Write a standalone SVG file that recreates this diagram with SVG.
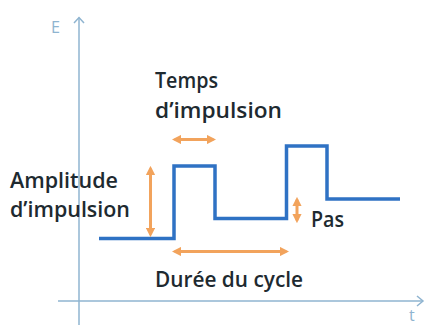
<svg xmlns="http://www.w3.org/2000/svg" width="425" height="325" viewBox="0 0 425 325">
  <style>
    .axis { fill: none; stroke: #8fb4d0; stroke-width: 1.5; }
    .signal { fill: none; stroke: #2f72c4; stroke-width: 3.5; stroke-linejoin: miter; }
    .dim { fill: none; stroke: #f2a35c; stroke-width: 3; marker-start: url(#oh); marker-end: url(#oh); }
    .lbl { font-family: "Open Sans", "Liberation Sans", sans-serif; font-size: 22px; font-weight: 600; fill: #1e2a30; }
    .axlbl { font-family: "Open Sans", "Liberation Sans", sans-serif; font-size: 16px; fill: #8fb4d0; }
  </style>
  <defs>
    <marker id="oh" viewBox="0 0 10 10" refX="7" refY="5" markerWidth="3.2" markerHeight="3.2" orient="auto-start-reverse" markerUnits="strokeWidth">
      <path d="M0,0 L10,5 L0,10 Z" fill="#f2a35c"/>
    </marker>
  </defs>
  <rect width="425" height="325" fill="#ffffff"/>

  <g id="axes">
    <path class="axis" d="M79,325 V17.5"/>
    <path class="axis" d="M74,23 L79,17.5 L84,23"/>
    <path class="axis" d="M58,301 H423"/>
    <path class="axis" d="M417,296 L423,301 L417,306"/>
    <text class="axlbl" x="51" y="32.5" textLength="9" lengthAdjust="spacingAndGlyphs">E</text>
    <text class="axlbl" x="409" y="321" font-size="14">t</text>
  </g>

  <g id="signal">
    <path class="signal" d="M99,238.5 H174 V166 H215 V218.5 H286.5 V146 H327 V199 H400"/>
  </g>

  <g id="label-temps">
    <text class="lbl" x="155" y="88" textLength="63" lengthAdjust="spacingAndGlyphs">Temps</text>
    <text class="lbl" x="155" y="118" textLength="127" lengthAdjust="spacingAndGlyphs">d’impulsion</text>
  </g>
  <g id="label-amplitude">
    <text class="lbl" x="10" y="188" textLength="108" lengthAdjust="spacingAndGlyphs">Amplitude</text>
    <text class="lbl" x="10" y="217" textLength="120" lengthAdjust="spacingAndGlyphs">d’impulsion</text>
  </g>
  <g id="label-pas">
    <text class="lbl" x="311" y="227" textLength="33" lengthAdjust="spacingAndGlyphs">Pas</text>
  </g>
  <g id="label-duree">
    <text class="lbl" x="155" y="287" textLength="148" lengthAdjust="spacingAndGlyphs">Durée du cycle</text>
  </g>

  <g id="connectors">
    <line class="dim" x1="174.7" y1="139.5" x2="213.3" y2="139.5"/>
    <line class="dim" x1="150.5" y1="168.7" x2="150.5" y2="234.3"/>
    <line class="dim" x1="297" y1="199.7" x2="297" y2="220.3"/>
    <line class="dim" x1="174.7" y1="251.5" x2="286.3" y2="251.5"/>
  </g>
</svg>
